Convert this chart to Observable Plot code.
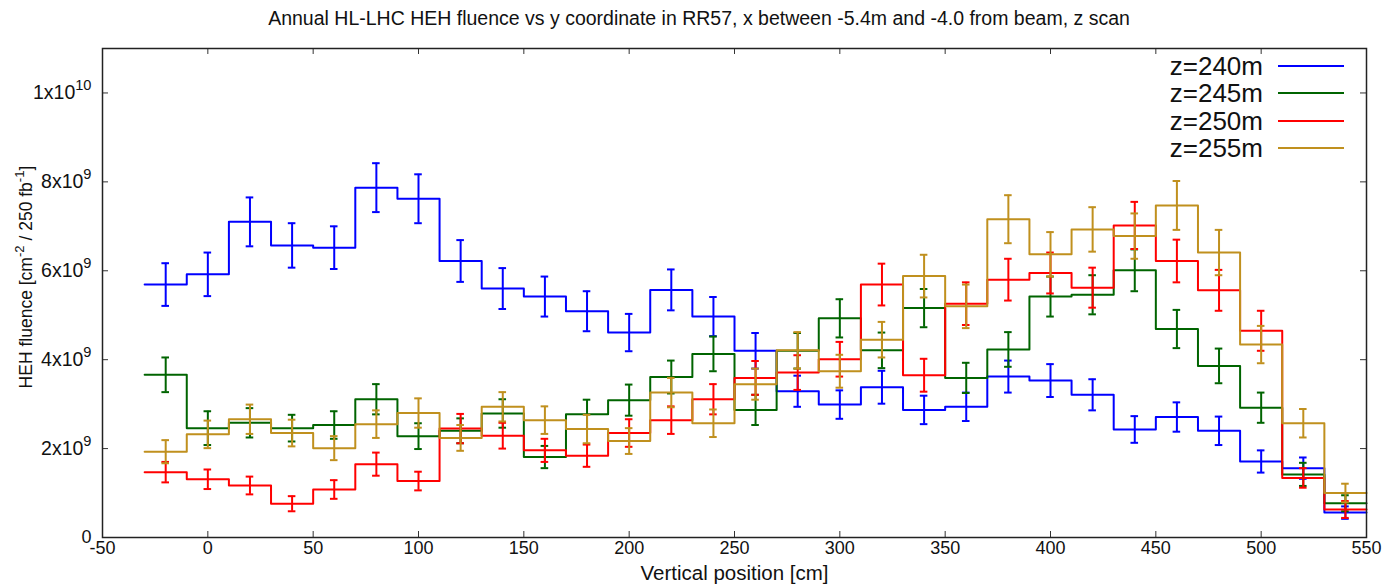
<!DOCTYPE html>
<html><head><meta charset="utf-8">
<script src="https://cdn.jsdelivr.net/npm/d3@7"></script>
<script src="https://cdn.jsdelivr.net/npm/@observablehq/plot@0.6"></script>
<style>
body{margin:0;background:#fff;font-family:"Liberation Sans",Arial,sans-serif;}
#title{height:36px;line-height:36px;text-align:center;font-size:19.5px;color:#111;white-space:nowrap;}
#chart{position:relative;width:1398px;height:549px;}
.lg-text{position:absolute;left:1060px;width:203px;text-align:right;font-size:26px;line-height:28px;color:#111;}
.lg-line{position:absolute;left:1278px;width:66px;height:2px;}
</style></head><body>
<div id="title">Annual HL-LHC HEH fluence vs y coordinate in RR57, x between -5.4m and -4.0 from beam, z scan</div>
<div id="chart"></div>
<script>
// ---- data ----
const centers = [-20,0,20,40,60,80,100,120,140,160,180,200,220,240,260,280,300,320,340,360,380,400,420,440,460,480,500,520,540];
const binWidth = 20;
const seriesNames = ["z=240m","z=245m","z=250m","z=255m"];
const seriesColors = ["#0000ff","#006400","#ff0000","#c0901e"];
// fluence values in units of 1e9 cm^-2 / 250 fb^-1
const fluence240 = [5.69,5.92,7.10,6.57,6.52,7.87,7.62,6.22,5.60,5.42,5.09,4.61,5.57,4.97,4.20,3.29,2.99,3.38,2.87,2.94,3.62,3.53,3.21,2.43,2.71,2.40,1.71,1.56,0.56];
const error240   = [0.48,0.49,0.55,0.50,0.48,0.55,0.55,0.47,0.46,0.45,0.45,0.42,0.46,0.44,0.40,0.35,0.32,0.37,0.32,0.32,0.36,0.37,0.35,0.30,0.33,0.32,0.25,0.24,0.14];
const fluence245 = [3.66,2.46,2.58,2.46,2.53,3.11,2.28,2.40,2.79,1.81,2.77,3.09,3.61,4.13,2.87,4.20,4.93,4.21,5.16,3.59,4.23,5.42,5.46,6.01,4.69,3.86,2.92,1.42,0.77];
const error245   = [0.39,0.38,0.33,0.30,0.31,0.34,0.29,0.28,0.32,0.25,0.33,0.35,0.37,0.39,0.34,0.40,0.43,0.40,0.43,0.34,0.39,0.45,0.44,0.47,0.43,0.39,0.34,0.26,0.18];
const fluence250 = [1.47,1.31,1.17,0.76,1.08,1.65,1.27,2.45,2.29,1.96,1.84,2.35,2.64,3.11,3.59,3.71,4.01,5.69,3.65,5.26,5.80,5.95,5.62,7.02,6.22,5.56,4.65,1.34,0.63];
const error250   = [0.23,0.22,0.20,0.17,0.21,0.26,0.21,0.33,0.29,0.26,0.25,0.31,0.31,0.34,0.38,0.39,0.39,0.47,0.37,0.48,0.47,0.46,0.45,0.53,0.48,0.46,0.45,0.22,0.19];
const fluence255 = [1.93,2.32,2.66,2.35,2.01,2.55,2.80,2.24,2.94,2.64,2.44,2.17,3.26,2.57,3.45,4.21,3.74,4.45,5.88,5.20,7.16,6.37,6.93,6.78,7.47,6.41,4.34,2.57,1.00];
const error255   = [0.26,0.31,0.33,0.30,0.27,0.31,0.33,0.29,0.33,0.31,0.32,0.29,0.33,0.31,0.35,0.41,0.37,0.40,0.48,0.49,0.54,0.50,0.50,0.51,0.55,0.51,0.42,0.32,0.21];
const unit = 1e9;
const xTicks = [-50,0,50,100,150,200,250,300,350,400,450,500,550];
const xTickLabels = ["-50","0","50","100","150","200","250","300","350","400","450","500","550"];
const yTicks = [0,2e9,4e9,6e9,8e9,1e10];
const yTickLabels = ["0","2x10^{9}","4x10^{9}","6x10^{9}","8x10^{9}","1x10^{10}"];
const xDomain = [-50, 550];
const yDomain = [0, 1.1e10];
const xLabel = "Vertical position [cm]";
const yLabel = "HEH fluence [cm^{-2} / 250 fb^{-1}]";

// ---- build ----
const allValues = [fluence240, fluence245, fluence250, fluence255];
const allErrors = [error240, error245, error250, error255];
const xFmt = new Map(xTicks.map((t,i)=>[t,xTickLabels[i]]));
const yFmt = new Map(yTicks.map((t,i)=>[t,yTickLabels[i]]));

const tickLenX = 6 / ((1366 - 102) / (xDomain[1]-xDomain[0]));
const tickLenY = 6 / ((501.3 - 12) / (yDomain[1]-yDomain[0]));
const capHalf = 1.8;

const marks = [];
allValues.forEach((vals, s) => {
  const errs = allErrors[s];
  const color = seriesColors[s];
  const steps = centers.map((c,i)=>({x: c - binWidth/2, y: vals[i]*unit}));
  steps.push({x: centers[centers.length-1] + binWidth/2, y: vals[vals.length-1]*unit});
  const pts = centers.map((c,i)=>({c, v: vals[i]*unit, e: errs[i]*unit}));
  marks.push(Plot.line(steps, {x:"x", y:"y", curve:"step-after", stroke: color, strokeWidth: 2}));
  marks.push(Plot.ruleX(pts, {x:"c", y1: d=>d.v-d.e, y2: d=>d.v+d.e, stroke: color, strokeWidth: 2}));
  marks.push(Plot.ruleY(pts, {y: d=>d.v-d.e, x1: d=>d.c-capHalf, x2: d=>d.c+capHalf, stroke: color, strokeWidth: 2}));
  marks.push(Plot.ruleY(pts, {y: d=>d.v+d.e, x1: d=>d.c-capHalf, x2: d=>d.c+capHalf, stroke: color, strokeWidth: 2}));
});
// inward ticks on all four sides
marks.push(Plot.ruleX(xTicks, {x: d=>d, y1: yDomain[0], y2: yDomain[0]+tickLenY, stroke:"#333", strokeWidth:1}));
marks.push(Plot.ruleX(xTicks, {x: d=>d, y1: yDomain[1]-tickLenY, y2: yDomain[1], stroke:"#333", strokeWidth:1}));
marks.push(Plot.ruleY(yTicks, {y: d=>d, x1: xDomain[0], x2: xDomain[0]+tickLenX, stroke:"#333", strokeWidth:1}));
marks.push(Plot.ruleY(yTicks, {y: d=>d, x1: xDomain[1]-tickLenX, x2: xDomain[1], stroke:"#333", strokeWidth:1}));
marks.push(Plot.frame({stroke:"#222", strokeWidth:1.5}));
marks.push(Plot.text([yLabel], {frameAnchor:"left", text: d=>d, rotate:-90, textAnchor:"middle", lineAnchor:"middle", dx:-76, dy:-16, fontSize:17.5, fill:"#111"}));
marks.push(Plot.text([xLabel], {frameAnchor:"bottom", text: d=>d, textAnchor:"middle", lineAnchor:"middle", dy:36, fontSize:20.5, fill:"#111"}));

const svg = Plot.plot({
  width: 1398, height: 549,
  marginLeft: 102, marginRight: 32, marginTop: 12, marginBottom: 48,
  style: {fontFamily: "'Liberation Sans', Arial, sans-serif", fontSize: "18px", color: "#111", background: "white"},
  x: {domain: xDomain, ticks: xTicks, tickFormat: d => xFmt.get(d), tickSize: 0, tickPadding: 4, label: null},
  y: {domain: yDomain, ticks: yTicks, tickFormat: d => yFmt.get(d), tickSize: 0, tickPadding: 11, label: null},
  marks
});

// superscripts: a^{b}
const svgNS = "http://www.w3.org/2000/svg";
svg.querySelectorAll("text").forEach(el => {
  const s = el.textContent;
  if (!s.includes("^{")) return;
  const isTick = s.includes("x10");
  if (isTick) el.setAttribute("font-size", "19.5px");
  const parts = s.split(/\^\{([^}]*)\}/);
  while (el.firstChild) el.removeChild(el.firstChild);
  let shifted = false;
  parts.forEach((p, i) => {
    if (!p) return;
    const t = document.createElementNS(svgNS, "tspan");
    t.textContent = p;
    if (i % 2 === 1) { t.setAttribute("font-size", "75%"); t.setAttribute("dy", "-0.6em"); shifted = true; }
    else if (shifted) { t.setAttribute("dy", "0.45em"); shifted = false; }
    el.appendChild(t);
  });
});

const chart = document.getElementById("chart");
chart.appendChild(svg);

// legend (inside plot, top-right)
const legendRowY = [30, 57.3, 84.7, 112.3];
seriesNames.forEach((name, i) => {
  const t = document.createElement("div");
  t.className = "lg-text";
  t.style.top = (legendRowY[i] - 14) + "px";
  t.textContent = name;
  chart.appendChild(t);
  const l = document.createElement("div");
  l.className = "lg-line";
  l.style.top = (legendRowY[i] - 1) + "px";
  l.style.background = seriesColors[i];
  chart.appendChild(l);
});
</script>
</body></html>
